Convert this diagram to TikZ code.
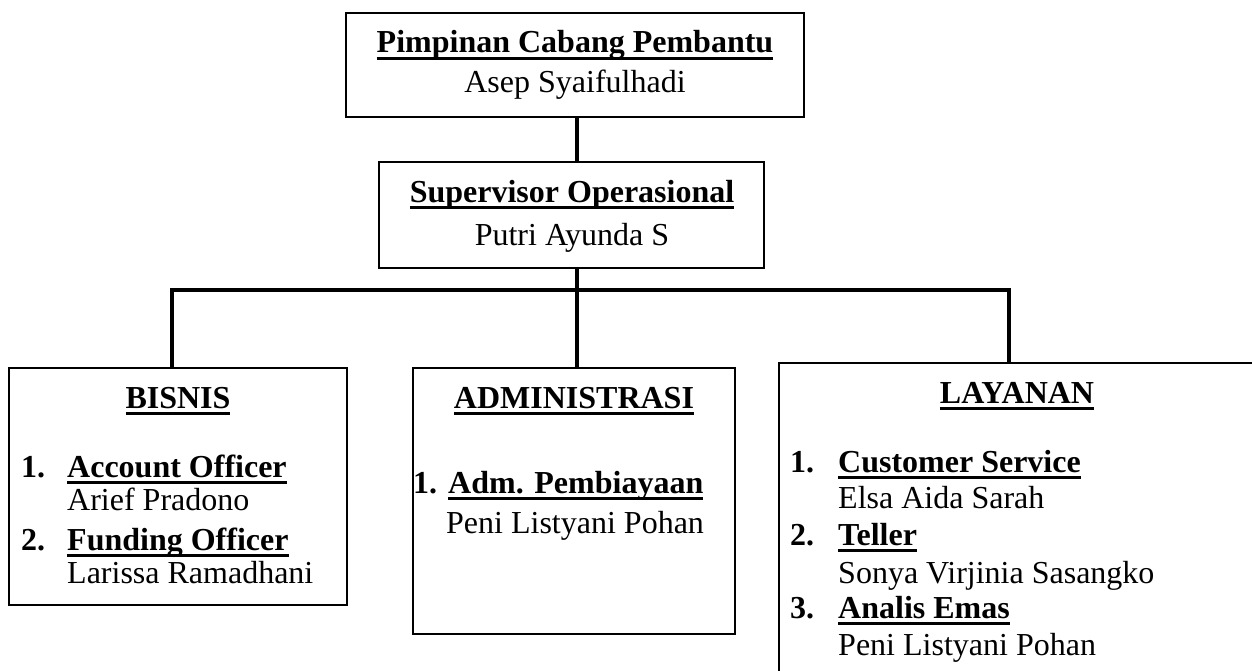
\documentclass[tikz,border=0pt]{standalone}
\usepackage{fontspec}
\setmainfont{Liberation Serif}
\newcommand\myul[1]{\setbox0\hbox{#1}\leavevmode\rlap{\vrule width\wd0 height -4pt depth 7pt}\box0}
\begin{document}
\begin{tikzpicture}[x=1pt,y=-1pt,
  box/.style={draw, line width=1.8pt, inner sep=0pt, outer sep=0pt},
  wire/.style={line width=4pt, line join=miter},
  txt/.style={anchor=base, inner sep=0pt, font=\fontsize{32}{38}\selectfont},
  txtl/.style={anchor=base west, inner sep=0pt, font=\fontsize{32}{38}\selectfont}]
\useasboundingbox (0,0) rectangle (1252,671);
\clip (0,0) rectangle (1252,671);
% boxes
\node[box, minimum width=458pt, minimum height=104pt] (top) at (575,65) {};
\node[box, minimum width=385pt, minimum height=106pt] (sup) at (571.5,215) {};
\node[box, minimum width=338pt, minimum height=237pt] (bis) at (178,486.5) {};
\node[box, minimum width=322pt, minimum height=266pt] (adm) at (574,501) {};
\node[box, minimum width=491pt, minimum height=327pt] (lay) at (1024.5,526.5) {};
% connectors
\coordinate (j) at (577,290);
\coordinate (bl) at (172,290);
\coordinate (br) at (1009,290);
\draw[wire] (j |- top.south) -- (j |- sup.north);
\draw[wire] (j |- sup.south) -- (j |- adm.north);
\draw[wire] (bis.north -| bl) -- (bl) -- (br) -- (lay.north -| br);
% top
\node[txt] (t1) at (575,53) {\bfseries\myul{Pimpinan Cabang Pembantu}};
\node[txt] (t2) at (575,93) {Asep Syaifulhadi};
% supervisor
\node[txt] (s1) at (572,202) {\bfseries\myul{Supervisor Operasional}};
\node[txt] (s2) at (572,245) {Putri Ayunda S};
% bisnis
\node[txt] (b0) at (178,408) {\bfseries\myul{BISNIS}};
\node[txtl] (b1n) at (21,477) {\bfseries 1.};
\node[txtl] (b1) at (67,477) {\bfseries\myul{Account Officer}};
\node[txtl] (b1p) at (67,510) {Arief Pradono};
\node[txtl] (b2n) at (21,550) {\bfseries 2.};
\node[txtl] (b2) at (67,550) {\bfseries\myul{Funding Officer}};
\node[txtl] (b2p) at (67,583) {Larissa Ramadhani};
% administrasi
\node[txt] (a0) at (574,408) {\bfseries\myul{ADMINISTRASI}};
\node[txtl] (a1n) at (413,493) {\bfseries 1.};
\node[txtl] (a1) at (448,493) {\bfseries\myul{Adm. Pembiayaan}};
\node[txtl] (a1p) at (446,533) {Peni Listyani Pohan};
% layanan
\node[txt] (l0) at (1017,403) {\bfseries\myul{LAYANAN}};
\node[txtl] (l1n) at (790,472) {\bfseries 1.};
\node[txtl] (l1) at (838,472) {\bfseries\myul{Customer Service}};
\node[txtl] (l1p) at (838,508) {Elsa Aida Sarah};
\node[txtl] (l2n) at (790,545) {\bfseries 2.};
\node[txtl] (l2) at (838,545) {\bfseries\myul{Teller}};
\node[txtl] (l2p) at (838,583) {Sonya Virjinia Sasangko};
\node[txtl] (l3n) at (790,618) {\bfseries 3.};
\node[txtl] (l3) at (838,618) {\bfseries\myul{Analis Emas}};
\node[txtl] (l3p) at (838,655) {Peni Listyani Pohan};
\end{tikzpicture}
\end{document}
